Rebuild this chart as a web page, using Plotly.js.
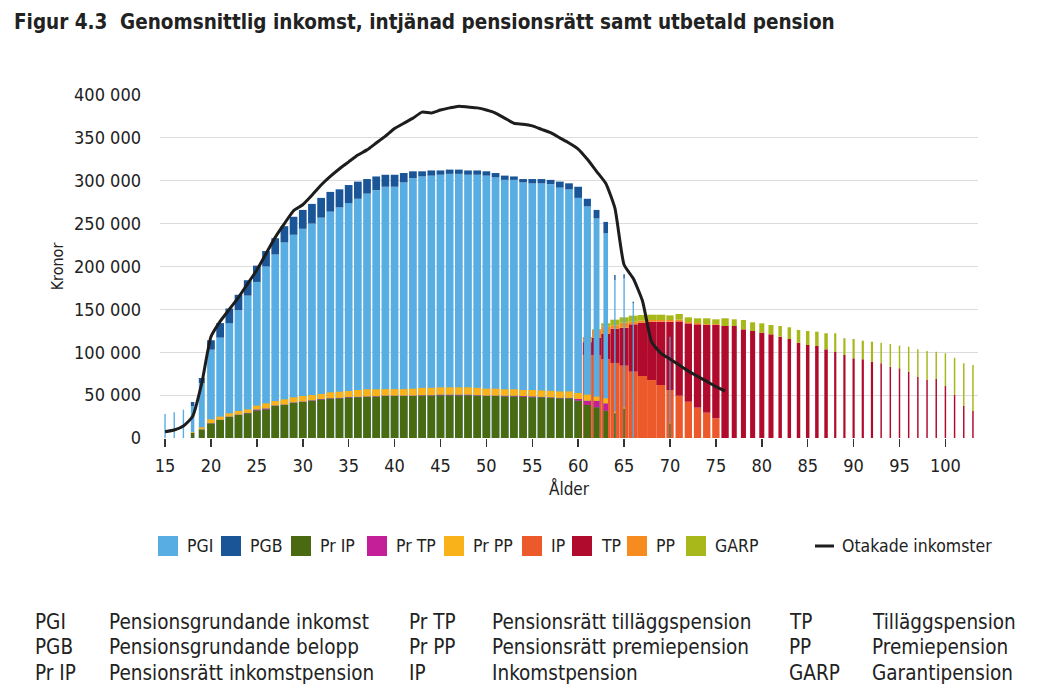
<!DOCTYPE html>
<html><head><meta charset="utf-8">
<script src="https://cdn.plot.ly/plotly-3.0.1.min.js"></script>
<style>html,body{margin:0;padding:0;background:#fff}#chart{width:1037px;height:699px}</style>
</head><body><div id="chart"></div>
<script>
// ---- DATA (values in thousands of kronor) ----
const incomeAges = [15,16,17,18,19,20,21,22,23,24,25,26,27,28,29,30,31,32,33,34,35,36,37,38,39,40,41,42,43,44,45,46,47,48,49,50,51,52,53,54,55,56,57,58,59,60,61,62,63,64,65,66,67,68,69,70];
const pgi = [28,30,33,37,64,103,117,134,149,166,182,200,214,228,237,244,250,257,264,269,274,279,285,289,293,293,298,303,305,306,307,308,308,307,307,306,304,301,301,298,297,297,296,292,290,280,270,256,239,184,186,157,0,0,0,118];
const pgb = [0,0,0,5,6,11,17,17,18,18,19,18,19,19,21,22,23,23,23,21,21,20,17,16,14,14,11,8,6,6,5,5,5,5,5,5,5,5,4,4,5,5,5,7,7,13,9,10,13,6,5,2,0,0,0,0];
const prIP = [0,0,0,6,10,17,21,24.5,26.8,28.8,32.2,33.5,37.5,38.5,41,42,43.5,45,46,46.3,47.3,47.5,48,48.3,49,49,49,49,49.5,49.5,49.8,49.8,49.8,49.8,49.5,49,49,48.5,48.5,48,47.5,47.5,47,46.3,46.3,43.5,38.5,35.8,31.9,28.8,34,0,0,0,0,17];
const prTP = [0,0,0,0,0,0.3,0.3,0.5,0.5,0.5,1,1,0.5,0.5,0.5,0.5,0.5,0.5,0.5,0.5,0.5,0.5,0.5,0.5,0.5,0.5,0.5,0.5,0.5,0.5,0.8,0.8,0.8,0.8,0.5,0.5,0.5,0.8,0.8,1,1,0.5,0.5,0.5,0.5,2,5,7.5,8.5,0,0,0,0,0,0,0];
const prPP = [0,0,0,1,2.4,4.5,3.6,3.8,4.2,4.1,4.5,5.9,5.1,6.1,6,6.5,6.1,5.8,6.8,7.2,7,8,8.3,8,7.5,7.5,7.5,8,8.5,8.5,8.5,8.5,8.5,8.5,8.5,8,8,7.5,7.5,7,7.5,7.5,7.5,7.5,7.5,7,7,5,6,2,2,0,0,0,0,1];

const pensionAges = [61,62,63,64,65,66,67,68,69,70,71,72,73,74,75,76,77,78,79,80,81,82,83,84,85,86,87,88,89,90,91,92,93,94,95,96,97,98,99,100,101,102,103];
const ip   = [96.8,96.8,91.8,87.5,84.3,77.3,72.3,67.6,61.8,56,49.3,42.3,35.4,29.5,23,0,0,0,0,0,0,0,0,0,0,0,0,0,0,0,0,0,0,0,0,0,0,0,0,0,0,0,0];
const tp   = [15,20,30,40,44.3,55.3,62.2,68,73.8,79.6,86.7,91.4,97.2,102.3,108.8,130.6,130.6,126.7,124.8,122.8,120.9,118.1,115.5,111.1,108.5,107.3,103.4,100.6,96.8,92.9,91.8,89,87.1,83.1,81.3,77.3,71.5,67.6,68.8,60.6,50.1,37.3,31.5];
const pp   = [6,9,8,4,5.9,3,2.3,2,2,2,2,1.5,1.5,1,1,0,0,0,0,0,0,0,0,0,0,0,0,0,0,0,0,0,0,0,0,0,0,0,0,0,0,0,0];
const garp = [0,1,4,6.5,6.2,7.1,6.6,6.2,6.2,5.4,6.6,5.5,5.5,6.8,5.6,9,7.8,10.9,10.1,10.9,10.9,12.5,13.6,14.9,16.3,16.7,18.7,21.5,19.5,22.6,21.7,23.3,24,26.5,26.4,29.2,31.9,33.9,31.8,38.2,43.5,49.8,53.6];

const lineAges = [15,16,17,18,19,20,21,22,23,24,25,26,27,28,29,30,31,32,33,34,35,36,37,38,39,40,41,42,43,44,45,46,47,48,49,50,51,52,53,54,55,56,57,58,59,60,61,62,63,64,65,66,67,68,69,70,71,72,73,74,75,76];
const otakade = [7.4,9.3,14,25,64,118,136,150,164,180,196,215,234,250,265,272,283,295,305,314,322,330,336,344,352,361,367,373,380,379,382.5,385,387,386,385,382.5,379,373,367,366,364,360,356,350,344,337,325,311,297,268,202,186,160,112,99,92,85,78,72,66,60,55];

const xTicks = [15,20,25,30,35,40,45,50,55,60,65,70,75,80,85,90,95,100];
const legendNames = ["PGI","PGB","Pr IP","Pr TP","Pr PP","IP","TP","PP","GARP"];
const lineName = "Otakade inkomster";
const glossAbbr = [["PGI","PGB","Pr IP"],["Pr TP","Pr PP","IP"],["TP","PP","GARP"]];
const glossText = [["Pensionsgrundande inkomst","Pensionsgrundande belopp","Pensionsrätt inkomstpension"],
                   ["Pensionsrätt tilläggspension","Pensionsrätt premiepension","Inkomstpension"],
                   ["Tilläggspension","Premiepension","Garantipension"]];

// ---- STYLES ----
const incomeWidth = [0.15,0.15,0.15,0.38,0.65].concat(Array(41).fill(0.84)).concat([0.78,0.64,0.5,0.15,0.15,0.15,0,0,0,0.12]);
const pensionWidth = Array(9).fill(0.99).concat(Array(7).fill(0.8)).concat(Array(5).fill(0.55)).concat(Array(6).fill(0.38)).concat(Array(5).fill(0.24)).concat(Array(11).fill(0.16));
const colors = {PGI:"#58ADE3",PGB:"#1A5597","Pr IP":"#4A6A12","Pr TP":"#C41E98","Pr PP":"#F9B21A",IP:"#EC5A2B",TP:"#B00A2C",PP:"#F68B1F",GARP:"#A8B71A"};
const FONT = "'DejaVu Sans Condensed','Roboto',sans-serif";
const TXT = "#222";

const K = v => v.map(d => d*1000);
function cum(...arrs){ return arrs[0].map((_,i)=>arrs.reduce((s,a)=>s+a[i],0)*1000); }
const nz = (v) => v.map(d => d===0 ? null : d*1000);

function bar(name, x, y, base, width){
  return {type:"bar", name:name, x:x, y:nz(y), base:base, width:width,
    marker:{color:colors[name], line:{width:0}}, showlegend:false, hoverinfo:"x+y+name"};
}
const zeroI = incomeAges.map(()=>0), zeroP = pensionAges.map(()=>0);
const traces = [
  bar("IP", pensionAges, ip, zeroP, pensionWidth),
  bar("TP", pensionAges, tp, K(ip), pensionWidth),
  bar("PP", pensionAges, pp, cum(ip,tp), pensionWidth),
  bar("GARP", pensionAges, garp, cum(ip,tp,pp), pensionWidth),
  bar("PGI", incomeAges, pgi, zeroI, incomeWidth),
  bar("PGB", incomeAges, pgb, K(pgi), incomeWidth),
  bar("Pr IP", incomeAges, prIP, zeroI, incomeWidth),
  bar("Pr TP", incomeAges, prTP, K(prIP), incomeWidth),
  bar("Pr PP", incomeAges, prPP, cum(prIP,prTP), incomeWidth),
  {type:"scatter", mode:"lines", name:lineName, x:lineAges, y:K(otakade),
   line:{color:"#1d1d1d", width:3, shape:"spline", smoothing:0.5}, showlegend:false}
];

// pixel helpers for decorations (plot area 160..978 x 95..438)
const L=160,R=978,T=95,B=438;
const px = x => (x-L)/(R-L), py = y => (B-y)/(B-T);

const shapes = [], annotations = [];
// title
annotations.push({xref:"paper",yref:"paper",x:px(12),y:py(22),xanchor:"left",yanchor:"middle",showarrow:false,
  text:"<b>Figur 4.3</b>",font:{family:FONT,size:20.5,color:TXT}});
annotations.push({xref:"paper",yref:"paper",x:px(118),y:py(22),xanchor:"left",yanchor:"middle",showarrow:false,
  text:"<b>Genomsnittlig inkomst, intjänad pensionsrätt samt utbetald pension</b>",font:{family:FONT,size:20.5,color:TXT}});
// legend
const swatchLeft = [158,221,291,367,444,522,572,627,686];
legendNames.forEach((n,i)=>{
  shapes.push({type:"rect",xref:"paper",yref:"paper",x0:px(swatchLeft[i]),x1:px(swatchLeft[i]+20),y0:py(556),y1:py(536),
    fillcolor:colors[n],line:{width:0}});
  annotations.push({xref:"paper",yref:"paper",x:px(swatchLeft[i]+27),y:py(546),xanchor:"left",yanchor:"middle",showarrow:false,
    text:n,font:{family:FONT,size:17.5,color:TXT}});
});
shapes.push({type:"line",xref:"paper",yref:"paper",x0:px(815),x1:px(834),y0:py(546),y1:py(546),line:{color:"#1d1d1d",width:3}});
annotations.push({xref:"paper",yref:"paper",x:px(840),y:py(546),xanchor:"left",yanchor:"middle",showarrow:false,
  text:lineName,font:{family:FONT,size:17.5,color:TXT}});
// glossary
const colAbbrX=[33,407,787], colTextX=[107,490,870], rowY=[622,647,673];
for(let c=0;c<3;c++){for(let r=0;r<3;r++){
  annotations.push({xref:"paper",yref:"paper",x:px(colAbbrX[c]),y:py(rowY[r]),xanchor:"left",yanchor:"middle",showarrow:false,
    text:glossAbbr[c][r],font:{family:FONT,size:20.5,color:TXT}});
  annotations.push({xref:"paper",yref:"paper",x:px(colTextX[c]),y:py(rowY[r]),xanchor:"left",yanchor:"middle",showarrow:false,
    text:glossText[c][r],font:{family:FONT,size:20.5,color:TXT}});
}}

const layout = {
  width:1037, height:699, margin:{l:160,r:59,t:95,b:261},
  paper_bgcolor:"#fff", plot_bgcolor:"#fff",
  barmode:"overlay", separators:", ",
  font:{family:FONT, color:TXT},
  xaxis:{range:[14.45,103.55], tickvals:xTicks, ticks:"outside", ticklen:8, tickwidth:1.5, tickcolor:"#333",
    showgrid:false, zeroline:false, showline:false, tickfont:{family:FONT,size:18,color:TXT}, ticklabelstandoff:3,
    title:{text:"Ålder", font:{family:FONT,size:17,color:TXT}, standoff:8}},
  yaxis:{range:[0,400000], dtick:50000, tickformat:",.0f", ticks:"", showgrid:true, gridcolor:"#dcdcdc", gridwidth:1,
    zeroline:false, showline:false, tickfont:{family:FONT,size:18,color:TXT}, ticklabelstandoff:18,
    title:{text:"Kronor", font:{family:FONT,size:16,color:TXT}, standoff:6}},
  shapes:shapes, annotations:annotations, showlegend:false
};
Plotly.newPlot("chart", traces, layout, {displayModeBar:false, staticPlot:true});
</script></body></html>
